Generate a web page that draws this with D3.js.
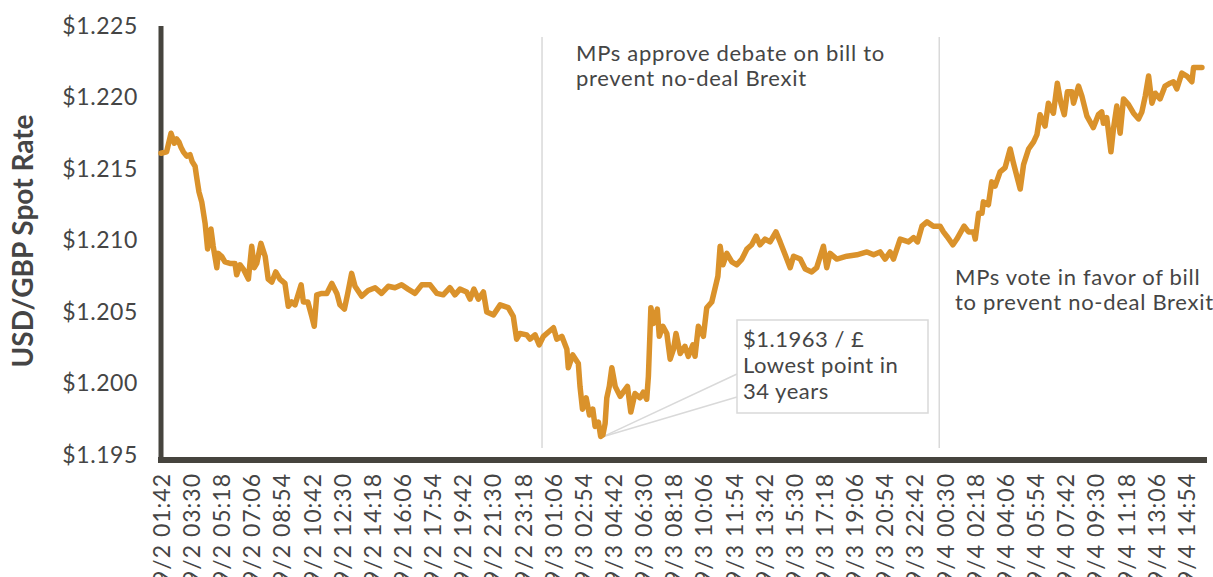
<!DOCTYPE html>
<html lang="en">
<head>
    <meta charset="UTF-8">
    <title>USD/GBP Spot Rate</title>
    <script src="https://d3js.org/d3.v7.min.js"></script>
    <style>
        body { margin: 0; background: #fff; }
        svg text { font-family: Lato, "Noto Sans", sans-serif; fill: #454545; }
    </style>
</head>
<body>
<div id="chart"></div>
<script>
// minutes after 9/2 01:42 and the spot rate read at that moment
var minutes = [0, 20, 36, 48, 56, 64, 72, 80, 92, 104, 112, 122, 128, 136, 146, 158, 167, 172, 179, 187,
    200, 205, 217, 229, 247, 265, 271, 283, 295, 313, 325, 334, 343, 358, 373, 384, 397, 411, 426, 444,
    456, 468, 480, 502, 510, 526, 540, 549, 558, 576, 594, 612, 630, 641, 657, 669, 683, 695, 719, 742,
    767, 790, 814, 838, 862, 885, 910, 934, 964, 988, 1011, 1035, 1053, 1071, 1095, 1107, 1121, 1137, 1155, 1167,
    1191, 1215, 1244, 1262, 1274, 1286, 1310, 1322, 1340, 1355, 1370, 1388, 1406, 1418, 1436, 1454, 1459, 1475, 1495, 1501,
    1510, 1523, 1535, 1547, 1555, 1567, 1575, 1583, 1591, 1597, 1606, 1615, 1627, 1645, 1656, 1671, 1683, 1698, 1716, 1728,
    1740, 1746, 1755, 1764, 1778, 1785, 1798, 1812, 1824, 1836, 1845, 1860, 1877, 1889, 1905, 1913, 1925, 1943, 1955, 1973,
    1989, 1995, 2003, 2013, 2027, 2045, 2063, 2081, 2099, 2116, 2132, 2146, 2164, 2182, 2203, 2218, 2236, 2254, 2266, 2290,
    2308, 2331, 2349, 2373, 2385, 2397, 2421, 2457, 2493, 2529, 2553, 2576, 2594, 2612, 2624, 2648, 2678, 2696, 2710, 2726,
    2744, 2767, 2791, 2803, 2815, 2837, 2851, 2877, 2893, 2911, 2917, 2929, 2941, 2946, 2964, 2976, 2988, 3006, 3024, 3042,
    3054, 3078, 3090, 3108, 3126, 3138, 3149, 3167, 3179, 3197, 3211, 3224, 3236, 3247, 3263, 3269, 3287, 3299, 3317, 3340,
    3358, 3370, 3376, 3388, 3403, 3412, 3424, 3436, 3448, 3466, 3484, 3502, 3514, 3526, 3538, 3550, 3562, 3579, 3597, 3615,
    3627, 3639, 3657, 3675, 3693, 3699, 3729];

var rate = [1.2161, 1.2162, 1.2175, 1.2168, 1.2171, 1.2169, 1.2165, 1.2162, 1.2159, 1.2160, 1.2155, 1.2152, 1.2144, 1.2134, 1.2127, 1.2112, 1.2094, 1.2105, 1.2108, 1.2096,
    1.2081, 1.2091, 1.2089, 1.2085, 1.2084, 1.2084, 1.2076, 1.2083, 1.2080, 1.2073, 1.2096, 1.2081, 1.2084, 1.2098, 1.2089, 1.2073, 1.2071, 1.2078, 1.2073, 1.2070,
    1.2054, 1.2057, 1.2055, 1.2069, 1.2057, 1.2057, 1.2047, 1.2040, 1.2062, 1.2063, 1.2063, 1.2070, 1.2063, 1.2055, 1.2052, 1.2063, 1.2077, 1.2068, 1.2061, 1.2065,
    1.2067, 1.2063, 1.2068, 1.2067, 1.2069, 1.2066, 1.2063, 1.2069, 1.2069, 1.2063, 1.2062, 1.2067, 1.2062, 1.2066, 1.2064, 1.2059, 1.2066, 1.2059, 1.2064, 1.2050,
    1.2048, 1.2055, 1.2053, 1.2047, 1.2031, 1.2035, 1.2034, 1.2031, 1.2034, 1.2027, 1.2033, 1.2036, 1.2039, 1.2031, 1.2033, 1.2024, 1.2011, 1.2020, 1.2014, 1.1998,
    1.1982, 1.1990, 1.1978, 1.1982, 1.1970, 1.1973, 1.1963, 1.1964, 1.1972, 1.1990, 1.1998, 1.2011, 1.1998, 1.1991, 1.1994, 1.1998, 1.1980, 1.1993, 1.1990, 1.1994,
    1.1989, 1.2005, 1.2053, 1.2042, 1.2052, 1.2033, 1.2040, 1.2035, 1.2017, 1.2024, 1.2035, 1.2021, 1.2026, 1.2019, 1.2027, 1.2019, 1.2040, 1.2033, 1.2053, 1.2057,
    1.2070, 1.2075, 1.2096, 1.2083, 1.2091, 1.2085, 1.2083, 1.2087, 1.2094, 1.2097, 1.2103, 1.2097, 1.2101, 1.2099, 1.2106, 1.2099, 1.2090, 1.2081, 1.2089, 1.2087,
    1.2080, 1.2078, 1.2081, 1.2096, 1.2081, 1.2091, 1.2087, 1.2089, 1.2090, 1.2092, 1.2090, 1.2092, 1.2087, 1.2092, 1.2087, 1.2101, 1.2099, 1.2102, 1.2099, 1.2110,
    1.2113, 1.2110, 1.2110, 1.2106, 1.2103, 1.2097, 1.2101, 1.2110, 1.2106, 1.2106, 1.2101, 1.2119, 1.2119, 1.2127, 1.2125, 1.2141, 1.2138, 1.2148, 1.2151, 1.2164,
    1.2154, 1.2136, 1.2153, 1.2164, 1.2169, 1.2174, 1.2188, 1.2180, 1.2196, 1.2189, 1.2210, 1.2196, 1.2188, 1.2204, 1.2204, 1.2196, 1.2208, 1.2201, 1.2187, 1.2179,
    1.2188, 1.2190, 1.2182, 1.2186, 1.2162, 1.2178, 1.2194, 1.2175, 1.2199, 1.2195, 1.2189, 1.2185, 1.2190, 1.2201, 1.2215, 1.2196, 1.2203, 1.2199, 1.2208, 1.2210,
    1.2211, 1.2206, 1.2217, 1.2215, 1.2211, 1.2221, 1.2221];

var xTickLabels = ["9/2 01:42", "9/2 03:30", "9/2 05:18", "9/2 07:06", "9/2 08:54", "9/2 10:42", "9/2 12:30",
    "9/2 14:18", "9/2 16:06", "9/2 17:54", "9/2 19:42", "9/2 21:30", "9/2 23:18", "9/3 01:06", "9/3 02:54",
    "9/3 04:42", "9/3 06:30", "9/3 08:18", "9/3 10:06", "9/3 11:54", "9/3 13:42", "9/3 15:30", "9/3 17:18",
    "9/3 19:06", "9/3 20:54", "9/3 22:42", "9/4 00:30", "9/4 02:18", "9/4 04:06", "9/4 05:54", "9/4 07:42",
    "9/4 09:30", "9/4 11:18", "9/4 13:06", "9/4 14:54"];

var yTicks = [1.195, 1.200, 1.205, 1.210, 1.215, 1.220, 1.225];

var eventTimes = ["9/3 00:27", "9/4 00:10"];
var eventText = [
    ["MPs approve debate on bill to", "prevent no-deal Brexit"],
    ["MPs vote in favor of bill", "to prevent no-deal Brexit"]
];
var lowNote = ["$1.1963 / \u00a3", "Lowest point in", "34 years"];

var parse = d3.timeParse("%Y/%m/%d %H:%M");
function toDate(label) { return parse("2019/" + label); }

var start = toDate(xTickLabels[0]);
var data = minutes.map(function (m, i) {
    return { date: d3.timeMinute.offset(start, m), value: rate[i] };
});

var width = 1213, height = 577;

var svg = d3.select("#chart")
    .append("svg")
    .attr("width", width)
    .attr("height", height);

var x = d3.scaleTime()
    .domain([start, d3.timeMinute.offset(start, 3740)])
    .range([161, 1205]);

var y = d3.scaleLinear()
    .domain([1.195, 1.225])
    .range([455, 26]);

// event markers
svg.selectAll(".event")
    .data(eventTimes)
    .enter()
    .append("line")
    .attr("x1", function (d) { return x(toDate(d)); })
    .attr("x2", function (d) { return x(toDate(d)); })
    .attr("y1", 37)
    .attr("y2", 448)
    .style("stroke", "#d9d9d9")
    .style("stroke-width", 1.5);

// y axis labels
var yAxis = svg.append("g")
    .attr("transform", "translate(138,0)")
    .call(d3.axisLeft(y).tickValues(yTicks).tickSize(0).tickFormat(function (d) { return "$" + d3.format(".3f")(d); }));
yAxis.select(".domain").remove();
yAxis.selectAll("text")
    .attr("x", 0)
    .style("font-size", "23px")
    .style("letter-spacing", "0.6px")
    .style("font-family", "Lato, sans-serif")
    .style("fill", "#454545");

// x axis labels
var xAxis = svg.append("g")
    .attr("transform", "translate(0,460)")
    .call(d3.axisBottom(x)
        .tickValues(xTickLabels.map(toDate))
        .tickSize(0)
        .tickFormat(d3.timeFormat("%-m/%-d %H:%M")));
xAxis.select(".domain").remove();
xAxis.selectAll("text")
    .attr("transform", "rotate(-90)")
    .attr("x", -13)
    .attr("y", 0)
    .attr("dy", "0.36em")
    .style("text-anchor", "end")
    .style("font-size", "23px")
    .style("letter-spacing", "1px")
    .style("font-family", "Lato, sans-serif")
    .style("fill", "#454545");

// axis lines
svg.append("line")
    .attr("x1", 161).attr("x2", 161)
    .attr("y1", 26).attr("y2", 463)
    .style("stroke", "#46443e")
    .style("stroke-width", 5);
svg.append("line")
    .attr("x1", 158).attr("x2", 1207)
    .attr("y1", 460).attr("y2", 460)
    .style("stroke", "#46443e")
    .style("stroke-width", 6);

// y axis title
svg.append("text")
    .attr("transform", "translate(33,241) rotate(-90)")
    .style("text-anchor", "middle")
    .style("font-size", "28px")
    .style("font-weight", "bold")
    .text("USD/GBP Spot Rate");

// callout for the low
var low = data[d3.minIndex(data, function (d) { return d.value; })];
var lx = x(low.date) + 3, ly = y(low.value);
[374, 397].forEach(function (py) {
    svg.append("line")
        .attr("x1", lx).attr("y1", ly)
        .attr("x2", 737).attr("y2", py)
        .style("stroke", "#d9d9d9")
        .style("stroke-width", 1.5);
});
svg.append("rect")
    .attr("x", 737).attr("y", 320)
    .attr("width", 191).attr("height", 93)
    .style("fill", "#fff")
    .style("stroke", "#d9d9d9")
    .style("stroke-width", 1.5);
svg.selectAll(".lowNote")
    .data(lowNote)
    .enter()
    .append("text")
    .attr("x", 743)
    .attr("y", function (d, i) { return 347 + i * 26; })
    .style("font-size", "22px")
    .style("letter-spacing", "0.5px")
    .text(function (d) { return d; });

// the rate line
var line = d3.line()
    .x(function (d) { return x(d.date); })
    .y(function (d) { return y(d.value); });

svg.append("path")
    .datum(data)
    .attr("d", line)
    .style("fill", "none")
    .style("stroke", "#da922b")
    .style("stroke-width", 5.5)
    .style("stroke-linejoin", "round")
    .style("stroke-linecap", "round");

// event notes
var notePos = [[576, 61], [955, 285]];
eventText.forEach(function (lines, k) {
    lines.forEach(function (t, i) {
        svg.append("text")
            .attr("x", notePos[k][0])
            .attr("y", notePos[k][1] + i * 25)
            .style("font-size", "22px")
            .style("letter-spacing", "0.7px")
            .text(t);
    });
});
</script>
</body>
</html>
